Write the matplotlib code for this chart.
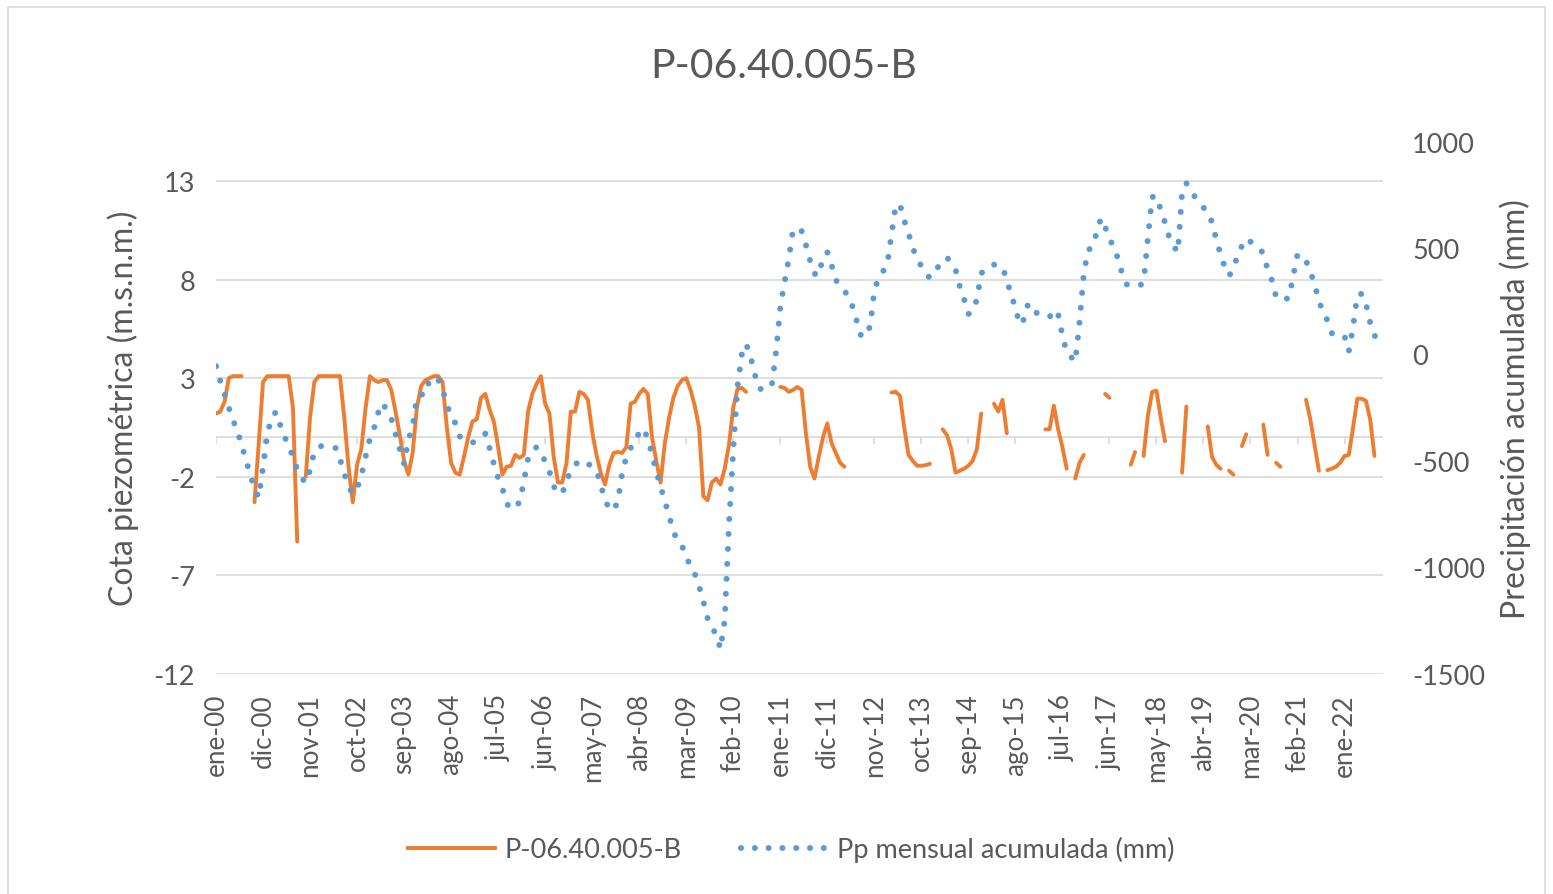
import numpy as np
import matplotlib
matplotlib.use("Agg")
import matplotlib.pyplot as plt
from matplotlib.lines import Line2D
from matplotlib.patches import Rectangle

nan = np.nan

# monthly series, ene-00 ... oct-22
pp_acum = [
    -55, -125, -185, -250, -310, -360, -425, -495, -565, -630,
    -672, -530, -372, -300, -270, -330, -385, -430, -480, -540,
    -580, -603, -545, -456, -435, -428, -428, -432, -440, -490,
    -560, -620, -655, -630, -570, -480, -395, -345, -270, -228,
    -265, -300, -372, -446, -515, -400, -340, -200, -188, -189,
    -115, -110, -118, -165, -235, -290, -323, -385, -400, -405,
    -415, -400, -385, -372, -440, -515, -580, -630, -700, -728,
    -715, -695, -600, -490, -455, -435, -470, -500, -550, -620,
    -650, -655, -590, -550, -520, -498, -505, -512, -530, -548,
    -610, -690, -720, -735, -690, -560, -480, -440, -400, -370,
    -347, -395, -470, -550, -620, -690, -760, -830, -880, -900,
    -945, -1000, -1030, -1090, -1160, -1240, -1290, -1310, -1385, -1250,
    -800, -450, -150, 0, 50, -5, -90, -160, -165, -160,
    -150, 10, 220, 340, 450, 590, 590, 580, 515, 440,
    380, 370, 460, 480, 420, 350, 320, 300, 270, 220,
    150, 80, 100, 130, 300, 360, 390, 420, 560, 700,
    705, 630, 570, 500, 450, 415, 380, 360, 390, 413,
    440, 456, 430, 400, 320, 260, 190, 200, 260, 380,
    405, 412, 422, 420, 410, 350, 280, 220, 140, 165,
    240, 215, 195, 185, 178, 175, 210, 190, 90, 10,
    -10, -35, 150, 380, 490, 505, 570, 640, 600, 540,
    510, 450, 380, 330, 321, 321, 321, 340, 550, 740,
    745, 680, 620, 550, 510, 480, 760, 805, 770, 741,
    715, 690, 672, 620, 540, 470, 410, 370, 400, 470,
    510, 545, 530, 515, 500, 475, 400, 350, 270, 255,
    260, 265, 370, 470, 465, 440, 390, 330, 250, 200,
    160, 100, 88, 87, 86, 15, 130, 280, 285, 240,
    150, 90, 60, 40,
]

cota = [
    1.2, 1.3, 1.8, 3.0, 3.1, 3.1, 3.1, nan, nan, -3.3,
    -0.3, 2.8, 3.1, 3.1, 3.1, 3.1, 3.1, 3.1, 1.5, -5.3,
    nan, -2.0, 1.0, 2.8, 3.1, 3.1, 3.1, 3.1, 3.1, 3.1,
    1.0, -1.5, -3.3, -1.4, -0.6, 1.5, 3.1, 2.9, 2.8, 2.9,
    2.9, 2.4, 1.3, 0.1, -1.2, -1.9, -0.8, 1.5, 2.6, 2.9,
    3.0, 3.1, 3.1, 2.8, 0.5, -1.3, -1.8, -1.9, -1.0, 0.0,
    0.8, 0.9, 2.0, 2.2, 1.4, 0.8, -0.5, -1.9, -1.5, -1.45,
    -0.9, -1.05, -0.9, 1.3, 2.2, 2.7, 3.1, 1.7, 1.2, -1.0,
    -2.3, -2.3, -1.3, 1.3, 1.3, 2.3, 2.2, 1.9, 0.3, -0.9,
    -1.8, -2.4, -1.4, -0.8, -0.75, -0.8, -0.5, 1.7, 1.8, 2.2,
    2.45, 2.2, 0.0, -1.2, -2.3, -0.3, 1.0, 2.0, 2.6, 2.9,
    3.0, 2.4, 1.6, 0.5, -3.0, -3.2, -2.3, -2.1, -2.4, -1.6,
    -0.4, 1.5, 2.45, 2.5, 2.3, nan, nan, nan, nan, nan,
    nan, nan, 2.55, 2.5, 2.3, 2.4, 2.55, 2.4, 0.2, -1.5,
    -2.1, -1.0, 0.0, 0.7, -0.3, -0.8, -1.3, -1.5, nan, nan,
    nan, nan, nan, nan, nan, nan, nan, nan, 2.27, 2.3,
    2.1, 0.5, -0.9, -1.2, -1.45, -1.45, -1.42, -1.35, nan, nan,
    0.4, 0.1, -0.6, -1.8, -1.7, -1.6, -1.45, -1.2, -0.6, 1.2,
    nan, nan, 1.7, 1.3, 1.9, 0.2, nan, nan, nan, nan,
    nan, nan, nan, nan, 0.4, 0.4, 1.6, 0.4, -0.5, -1.6,
    nan, -2.1, -1.3, -0.9, nan, nan, nan, nan, 2.2, 2.0,
    nan, nan, nan, nan, -1.4, -0.75, nan, -0.95, 1.1, 2.3,
    2.36, 1.0, -0.2, nan, nan, nan, -1.8, 1.55, nan, nan,
    nan, nan, 0.55, -1.0, -1.4, -1.6, nan, -1.7, -1.9, nan,
    -0.45, 0.15, nan, nan, nan, 0.64, -0.9, nan, -1.3, -1.5,
    nan, nan, nan, nan, nan, 1.9, 0.9, -0.4, -1.7, nan,
    -1.67, -1.6, -1.5, -1.3, -0.95, -0.9, 0.5, 1.96, 1.95, 1.85,
    0.9, -0.95, nan, nan,
]

tick_labels = ['ene-00', 'dic-00', 'nov-01', 'oct-02', 'sep-03', 'ago-04', 'jul-05',
               'jun-06', 'may-07', 'abr-08', 'mar-09', 'feb-10', 'ene-11', 'dic-11',
               'nov-12', 'oct-13', 'sep-14', 'ago-15', 'jul-16', 'jun-17', 'may-18',
               'abr-19', 'mar-20', 'feb-21', 'ene-22']
left_ticks = [-12, -7, -2, 3, 8, 13]
right_ticks = [-1500, -1000, -500, 0, 500, 1000]

orange = '#ED7D31'
blue = '#5B9BD5'
grid_c = '#D9D9D9'
txt = '#595959'

plt.rcParams['font.family'] = ['Lato', 'DejaVu Sans']
plt.rcParams['axes.unicode_minus'] = False

x = np.arange(len(pp_acum))
xt = np.arange(len(tick_labels)) * 11

fig = plt.figure(figsize=(15.53, 8.95), dpi=100)
ax = fig.add_axes([216 / 1553, 1 - 674.6 / 895, 1167 / 1553, 531.9 / 895])
ax2 = ax.twinx()

ax.set_ylim(-12, 15)
ax.set_yticks(left_ticks)
ax.set_xlim(0, len(pp_acum) - 1)
ax.grid(axis='y', color=grid_c, lw=1.2)
ax.set_axisbelow(True)
ax.axhline(0, color=grid_c, lw=1.2, zorder=1)
ax.vlines(xt, -0.32, 0, color=grid_c, lw=1.2, zorder=1)

ax.plot(x, cota, color=orange, lw=2.8, solid_capstyle='round', solid_joinstyle='round', zorder=3)
ax2.plot(x, pp_acum, color=blue, lw=4.3, linestyle=(0, (0.01, 2.5)), dash_capstyle='round')

ax2.set_ylim(-1500, 1000)
ax2.set_yticks(right_ticks)

ax.set_xticks(xt)
ax.set_xticklabels(tick_labels, rotation=90)
ax.tick_params(axis='x', length=0, pad=14, labelsize=18.8, labelcolor=txt)
ax.tick_params(axis='y', length=0, pad=15, labelsize=19.5, labelcolor=txt)
ax2.tick_params(axis='y', length=0, pad=21, labelsize=19.5, labelcolor=txt)

for a in (ax, ax2):
    for s in a.spines.values():
        s.set_visible(False)

ax.set_ylabel('Cota piezométrica (m.s.n.m.)', fontsize=23, color=txt)
ax.yaxis.set_label_coords(-0.066, 0.5)
ax2.set_ylabel('Precipitación acumulada (mm)', fontsize=23, color=txt)
ax2.yaxis.set_label_coords(1.1, 0.5)

fig.text(0.5045, 0.926, 'P-06.40.005-B', ha='center', va='center', fontsize=29.5, color=txt)

handles = [Line2D([], [], color=orange, lw=2.8),
           Line2D([], [], color=blue, lw=4.3, linestyle=(0, (0.01, 2.3)), dash_capstyle='round')]
fig.legend(handles, ['P-06.40.005-B', 'Pp mensual acumulada (mm)'], loc='center',
           bbox_to_anchor=(0.5097, 0.05), ncol=2, frameon=False, fontsize=19.5,
           handlelength=3.2, handletextpad=0.35, columnspacing=2.2, labelcolor=txt)

fig.patches.append(Rectangle((8 / 1553, -0.02), 1537 / 1553, 1.011, transform=fig.transFigure,
                             fill=False, edgecolor=grid_c, lw=1.2))

fig.savefig('out.png', dpi=100)
